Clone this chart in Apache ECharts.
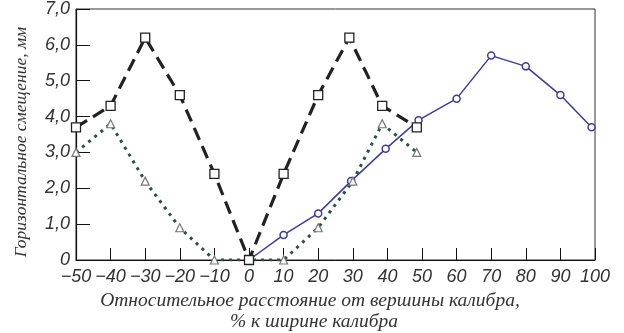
<!DOCTYPE html>
<html>
<head>
<meta charset="utf-8">
<script src="https://cdn.jsdelivr.net/npm/echarts@6/dist/echarts.min.js"></script>
<style>
  html, body { margin: 0; padding: 0; background: #fff; }
  #chart { width: 624px; height: 333px; }
</style>
</head>
<body>
<div id="chart"></div>
<script>
// Horizontal displacement vs. relative distance from the groove apex
const xTicks = [-50, -40, -30, -20, -10, 0, 10, 20, 30, 40, 50, 60, 70, 80, 90, 100];
const yTicks = [0, 1, 2, 3, 4, 5, 6, 7];

// dashed series, square markers
const squareX = [-50, -40, -30, -20, -10, 0, 10, 20, 29, 38.5, 48.5];
const squareY = [3.7, 4.3, 6.2, 4.6, 2.4, 0, 2.4, 4.6, 6.2, 4.3, 3.7];

// dotted series, triangle markers
const triangleX = [-50, -40, -30, -20, -10, 0, 10, 20, 30, 38.5, 48.5];
const triangleY = [3.0, 3.8, 2.2, 0.9, 0, 0, 0, 0.9, 2.2, 3.8, 3.0];

// solid series, circle markers
const circleX = [0, 10, 20, 29.5, 39.5, 49, 60, 70, 80, 90, 99];
const circleY = [0, 0.7, 1.3, 2.2, 3.1, 3.9, 4.5, 5.7, 5.4, 4.6, 3.7];

const xTitle = ['Относительное расстояние от вершины калибра,', '% к ширине калибра'];
const yTitle = 'Горизонтальное смещение, мм';

const pairs = (xs, ys) => xs.map((x, i) => [x, ys[i]]);

const tickFont = { fontFamily: '"Liberation Sans", Arial, sans-serif', fontStyle: 'italic', fontSize: 18, color: '#333' };
const xTitleFont = 'italic 19.5px "Liberation Serif", "Times New Roman", serif';
const yTitleFont = 'italic 17.5px "Liberation Serif", "Times New Roman", serif';

const chart = echarts.init(document.getElementById('chart'), null, { renderer: 'canvas' });

chart.setOption({
  animation: false,
  backgroundColor: '#fff',
  grid: {
    left: 76, right: 29, top: 9, bottom: 73,
    show: true, borderColor: '#333', borderWidth: 1, backgroundColor: 'transparent'
  },
  xAxis: {
    type: 'value',
    min: xTicks[0], max: xTicks[xTicks.length - 1], interval: 10,
    axisLine: { onZero: false, lineStyle: { color: '#111', width: 1.2 } },
    axisTick: { inside: true, length: 12, lineStyle: { color: '#111', width: 1 } },
    splitLine: { show: false },
    axisLabel: Object.assign({}, tickFont, {
      margin: 8,
      formatter: v => String(v).replace('-', '\u2212')
    })
  },
  yAxis: {
    type: 'value',
    min: yTicks[0], max: yTicks[yTicks.length - 1], interval: 1,
    axisLine: { show: true, onZero: false, lineStyle: { color: '#111', width: 1.2 } },
    axisTick: { show: true, inside: true, length: 14, lineStyle: { color: '#111', width: 1 } },
    splitLine: { show: false },
    axisLabel: Object.assign({}, tickFont, {
      margin: 6,
      formatter: v => v === 0 ? '0' : v.toFixed(1).replace('.', ',')
    })
  },
  graphic: [
    {
      type: 'text', x: 310, y: 301,
      style: { text: xTitle[0], font: xTitleFont, fill: '#333', align: 'center', verticalAlign: 'middle' }
    },
    {
      type: 'text', x: 314, y: 322,
      style: { text: xTitle[1], font: xTitleFont, fill: '#333', align: 'center', verticalAlign: 'middle' }
    },
    {
      type: 'text', x: 21, y: 142, rotation: Math.PI / 2,
      style: { text: yTitle, font: yTitleFont, fill: '#333', align: 'center', verticalAlign: 'middle' }
    }
  ],
  series: [
    {
      type: 'line', z: 2,
      data: pairs(circleX, circleY),
      lineStyle: { color: '#3c3c9c', width: 1.5 },
      symbol: 'circle', symbolSize: 7,
      itemStyle: { color: '#fff', borderColor: '#3c3c9c', borderWidth: 1.5 }
    },
    {
      type: 'line', z: 3,
      data: pairs(triangleX, triangleY),
      lineStyle: { color: '#245444', width: 3, type: [3, 5] },
      symbol: 'triangle', symbolSize: 8,
      itemStyle: { color: '#fff', borderColor: '#777', borderWidth: 1.2 }
    },
    {
      type: 'line', z: 4,
      data: pairs(squareX, squareY),
      lineStyle: { color: '#222', width: 3.2, type: [13, 7] },
      symbol: 'rect', symbolSize: 9,
      itemStyle: { color: '#fff', borderColor: '#222', borderWidth: 1.3 }
    }
  ]
});
</script>
</body>
</html>
